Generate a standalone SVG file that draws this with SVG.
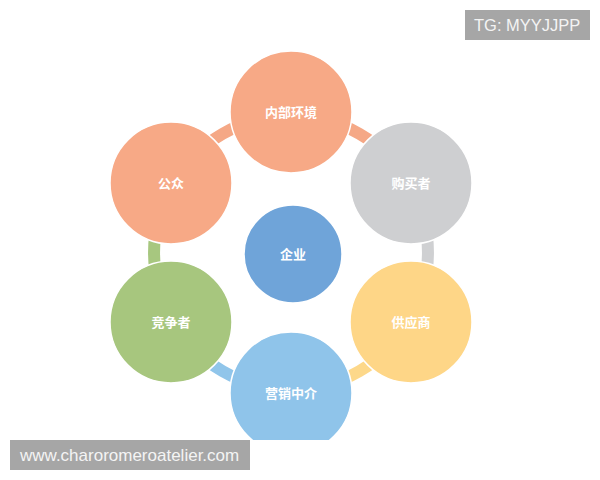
<svg xmlns="http://www.w3.org/2000/svg" width="600" height="480" viewBox="0 0 600 480">
<style>
.node{stroke:#ffffff;stroke-width:1.5}
.lbl{font-family:"Noto Sans CJK SC","Noto Sans",sans-serif;font-size:13px;font-weight:bold;fill:#ffffff;text-anchor:middle}
.ring{fill:none;stroke-width:12}
.wm{fill:#a6a6a6}
.wmt{font-family:"Liberation Sans","Noto Sans",sans-serif;fill:#f4f4f4}
</style>
<defs>
<clipPath id="clip"><rect x="0" y="0" width="600" height="440"/></clipPath>
</defs>
<rect width="600" height="480" fill="#ffffff"/>
<g clip-path="url(#clip)">
<g id="connectors">
<path class="ring" stroke="#f5a886" d="M 291 115.5 A 137 137 0 0 1 409.6 184"/>
<path class="ring" stroke="#cfd0d2" d="M 409.6 184 A 137 137 0 0 1 409.6 321"/>
<path class="ring" stroke="#fdd88a" d="M 409.6 321 A 137 137 0 0 1 291 389.5"/>
<path class="ring" stroke="#90c5ea" d="M 291 389.5 A 137 137 0 0 1 172.4 321"/>
<path class="ring" stroke="#a7c77f" d="M 172.4 321 A 137 137 0 0 1 172.4 184"/>
<path class="ring" stroke="#f5a886" d="M 172.4 184 A 137 137 0 0 1 291 115.5"/>
</g>
<g id="node-internal">
<circle class="node" cx="291" cy="112" r="61" fill="#f7a986"/>
<text class="lbl" x="291" y="117">内部环境</text>
</g>
<g id="node-buyer">
<circle class="node" cx="411" cy="183" r="61" fill="#cecfd1"/>
<text class="lbl" x="411" y="188">购买者</text>
</g>
<g id="node-supplier">
<circle class="node" cx="411" cy="322" r="61" fill="#fed687"/>
<text class="lbl" x="411" y="327">供应商</text>
</g>
<g id="node-intermediary">
<circle class="node" cx="291" cy="393" r="61" fill="#8fc4ea"/>
<text class="lbl" x="291" y="398">营销中介</text>
</g>
<g id="node-competitor">
<circle class="node" cx="171" cy="322" r="61" fill="#a7c67e"/>
<text class="lbl" x="171" y="327">竞争者</text>
</g>
<g id="node-public">
<circle class="node" cx="171" cy="183" r="61" fill="#f7a986"/>
<text class="lbl" x="171" y="188">公众</text>
</g>
<g id="node-enterprise">
<circle class="node" cx="293" cy="254" r="49" fill="#6fa4d9"/>
<text class="lbl" x="293" y="259">企业</text>
</g>
</g>
<rect class="wm" x="465" y="10" width="125" height="30"/>
<text class="wmt" x="474" y="31" font-size="16.5">TG: MYYJJPP</text>
<rect class="wm" x="10" y="440" width="240" height="30"/>
<text class="wmt" x="20" y="461" font-size="17">www.charoromeroatelier.com</text>
</svg>
